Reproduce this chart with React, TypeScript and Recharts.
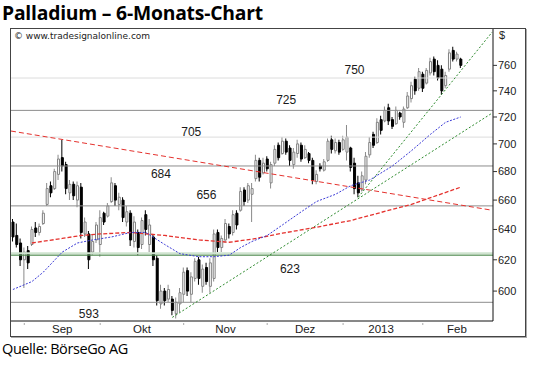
import { ComposedChart, Bar, Line, XAxis, YAxis, ReferenceLine, ReferenceDot, Cell } from "recharts"

// daily candles, Aug 2012 - Feb 2013 (USD)
const highs = [
  647, 644, 634, 628, 629, 642, 645, 644, 653, 672, 673, 682, 692, 703, 687, 674, 673, 673, 672, 648,
  639, 637, 645, 653, 652, 658, 676, 672, 665, 662, 656, 653, 649, 640, 648, 653, 647, 637, 623, 604,
  602, 604, 597, 596, 602, 615, 615, 612, 621, 622, 617, 618, 621, 640, 640, 636, 647, 644, 653, 653,
  669, 669, 672, 672, 692, 690, 690, 691, 687, 699, 701, 705, 704, 699, 697, 703, 701, 699, 694, 690,
  681, 686, 689, 704, 706, 704, 703, 706, 714, 698, 690, 677, 680, 694, 705, 709, 719, 721, 728, 730,
  720, 728, 724, 728, 739, 747, 751, 758, 755, 758, 766, 767, 764, 760, 755, 773, 775, 771, 766,
]
const lows = [
  632, 628, 616, 602, 614, 629, 635, 636, 643, 656, 662, 667, 674, 680, 664, 660, 660, 655, 634, 635,
  614, 623, 631, 622, 643, 648, 658, 656, 653, 645, 642, 629, 628, 623, 627, 636, 625, 616, 591, 589,
  591, 593, 585, 583, 587, 593, 597, 593, 606, 604, 599, 604, 599, 606, 625, 625, 631, 634, 636, 640,
  652, 656, 658, 645, 673, 673, 678, 680, 668, 684, 688, 692, 692, 684, 682, 690, 687, 689, 686, 671,
  671, 680, 680, 687, 693, 693, 692, 695, 688, 680, 664, 662, 666, 671, 690, 697, 700, 707, 716, 714,
  711, 714, 718, 712, 726, 731, 737, 740, 739, 745, 752, 752, 748, 737, 742, 755, 763, 763, 758,
]
const opens = [
  645, 636, 631, 620, 626, 630, 641, 638, 644, 657, 670, 668, 678, 690, 685, 665, 671, 660, 669, 637,
  637, 625, 633, 630, 651, 649, 659, 670, 657, 660, 645, 651, 632, 638, 630, 650, 630, 635, 621, 592,
  600, 595, 595, 586, 592, 598, 613, 598, 608, 620, 603, 615, 603, 608, 638, 628, 633, 642, 638, 651,
  653, 667, 660, 664, 675, 688, 679, 689, 672, 686, 699, 693, 702, 697, 685, 693, 699, 690, 693, 688,
  673, 684, 681, 688, 703, 695, 701, 696, 694, 697, 686, 672, 667, 674, 692, 707, 701, 718, 717, 727,
  718, 715, 723, 716, 727, 734, 749, 742, 753, 746, 754, 765, 760, 757, 744, 757, 772, 765, 765,
]
const closes = [
  635, 630, 620, 625, 618, 640, 638, 642, 651, 668, 665, 680, 689, 684, 668, 671, 663, 670, 638, 645,
  620, 632, 643, 648, 645, 656, 672, 660, 662, 648, 652, 633, 645, 628, 646, 640, 643, 620, 594, 600,
  594, 601, 588, 593, 599, 612, 600, 609, 619, 608, 614, 606, 618, 637, 628, 634, 644, 637, 650, 643,
  666, 659, 670, 668, 688, 676, 686, 682, 685, 696, 690, 702, 694, 688, 694, 700, 689, 696, 688, 674,
  678, 682, 687, 702, 696, 701, 694, 703, 705, 683, 668, 665, 677, 691, 701, 699, 716, 710, 725, 717,
  713, 725, 720, 726, 736, 744, 740, 755, 742, 756, 763, 755, 750, 740, 752, 770, 765, 769, 760,
]

// moving averages: [bar index, value]
const blueAvg = [
  [0, 601], [5, 606], [8, 612], [13, 625], [17, 631], [21, 633], [26, 635], [31, 638], [35, 638],
  [40, 630], [44, 624], [49, 622], [53, 622], [57, 623], [60, 628], [63, 632], [67, 636], [71, 643],
  [76, 652], [80, 659], [85, 664], [89, 670], [94, 674], [100, 684], [105, 695], [110, 707], [114, 716], [118, 720],
]
const redAvg = [
  [5, 631], [13, 634], [18, 636], [23, 637], [31, 638], [40, 636], [49, 633], [57, 631.5], [63, 633.5],
  [71, 637.5], [80, 641.5], [89, 646], [94, 649.5], [105, 657], [118, 669],
]

const levels = [750, 725, 705, 684, 656, 623, 593]
const levelColors = ["#dcdcdc", "#8c8c8c", "#dcdcdc", "#8c8c8c", "#8c8c8c", "#4f8a4f", "#8c8c8c"]
const levelSpots = [[90, 756.5], [72, 733], [47, 709], [39, 678.5], [51, 664], [73, 614], [20, 586]]

const monthLabels = ["Sep", "Okt", "Nov", "Dez", "2013", "Feb"]
const monthCenters = [13, 34, 56, 77, 97, 117]
const monthStarts = [3, 23, 45, 67, 87, 108]
const priceTicks = [600, 620, 640, 660, 680, 700, 720, 740, 760]

const slots = 127
const red = "#e5322e"
const green = "#2e8b2e"

const rows = Array.from({ length: slots }, (_, i) => {
  const has = i < highs.length
  const b = blueAvg.find((p) => p[0] === i)
  const r = redAvg.find((p) => p[0] === i)
  return {
    i,
    hl: has ? [lows[i], highs[i]] : undefined,
    body: has ? [Math.min(opens[i], closes[i]), Math.max(opens[i], closes[i])] : undefined,
    up: has ? closes[i] >= opens[i] : false,
    blue: b ? b[1] : null,
    red: r ? r[1] : null,
  }
})

const MonthTick = ({ x, y, payload }: any) => {
  const k = monthCenters.indexOf(payload.value)
  if (k >= 0)
    return (
      <text x={x} y={y + 4} textAnchor="middle" fontSize={11.5} fill="#1a1a1a" fontFamily="Liberation Sans, Arial, sans-serif">
        {monthLabels[k]}
      </text>
    )
  if (monthStarts.includes(payload.value)) return <line x1={x} x2={x} y1={y - 6} y2={y - 4} stroke="#aaa" />
  return <g />
}

export default function App() {
  return (
    <div style={{ position: "absolute", left: 0, top: 0, width: 540, height: 368, background: "#fff", overflow: "hidden" }}>
      <div style={{ position: "absolute", left: 2, top: -1, fontFamily: "Open Sans, sans-serif", fontWeight: 700, fontSize: 19.3, letterSpacing: -0.2, color: "#000", whiteSpace: "nowrap" }}>
        Palladium – 6-Monats-Chart
      </div>
      <div style={{ position: "absolute", left: 10, top: 28, width: 516, height: 309, boxSizing: "border-box", border: "1px solid #444", boxShadow: "1px 1px 0 #aaa" }} />
      <div style={{ position: "absolute", left: 11, top: 29 }}>
        <ComposedChart width={514} height={307} data={rows} margin={{ top: 0, right: 0, bottom: 0, left: 0 }}>
          <XAxis xAxisId="c" dataKey="i" type="category" height={15} interval={0} tickLine={false} axisLine={{ stroke: "#111" }} tick={<MonthTick />} />
          <XAxis xAxisId="b" dataKey="i" type="category" height={0} hide />
          <XAxis xAxisId="num" dataKey="i" type="number" domain={[-0.5, slots - 0.5]} allowDataOverflow height={0} hide />
          <YAxis
            orientation="right"
            scale="log"
            domain={[581.5, 789.5]}
            allowDataOverflow
            ticks={priceTicks}
            width={32}
            tickSize={4}
            tickMargin={1}
            axisLine={{ stroke: "#111" }}
            tickLine={{ stroke: "#333" }}
            tick={{ fontSize: 11, fill: "#222", fontFamily: "Liberation Sans, Arial, sans-serif" }}
          />

          {levels.map((v, k) => (
            <ReferenceLine key={v} xAxisId="c" y={v} stroke={levelColors[k]} strokeWidth={v === 623 ? 1.2 : 1} />
          ))}
          <ReferenceLine xAxisId="c" y={624.2} stroke="#cfe3cf" strokeWidth={2} />

          <ReferenceLine xAxisId="num" segment={[{ x: -0.5, y: 709.5 }, { x: 126.3, y: 653 }]} stroke={red} strokeDasharray="5 3" />
          <ReferenceLine xAxisId="num" segment={[{ x: 91, y: 662 }, { x: 126.3, y: 787 }]} stroke={green} strokeDasharray="2 2" />
          <ReferenceLine xAxisId="num" segment={[{ x: 42, y: 583.7 }, { x: 126.3, y: 723 }]} stroke={green} strokeDasharray="2 2" />

          <Line xAxisId="c" dataKey="red" stroke={red} strokeWidth={1.3} strokeDasharray="4 2" dot={false} connectNulls isAnimationActive={false} />
          <Line xAxisId="c" dataKey="blue" stroke="#3a3ad6" strokeWidth={1} strokeDasharray="2 1.5" dot={false} connectNulls isAnimationActive={false} />

          <Bar xAxisId="c" dataKey="hl" barSize={1} isAnimationActive={false}>
            {rows.map((r) => (
              <Cell key={r.i} fill={r.up ? "#8a8a8a" : "#000"} />
            ))}
          </Bar>
          <Bar xAxisId="b" dataKey="body" barSize={2} isAnimationActive={false}>
            {rows.map((r) => (
              <Cell key={r.i} fill={r.up ? "#fff" : "#000"} stroke={r.up ? "#808080" : "#000"} strokeWidth={1} />
            ))}
          </Bar>

          {levels.map((v, k) => (
            <ReferenceDot
              key={"l" + v}
              xAxisId="c"
              x={levelSpots[k][0]}
              y={levelSpots[k][1]}
              r={1}
              fill="none"
              stroke="none"
              label={{ value: String(v), position: "center", fontSize: 12, fill: "#1a1a1a", fontFamily: "Liberation Sans, Arial, sans-serif" }}
            />
          ))}
        </ComposedChart>
      </div>
      <div style={{ position: "absolute", left: 14, top: 31, fontFamily: "DejaVu Sans, Verdana, sans-serif", fontSize: 9, color: "#222", whiteSpace: "nowrap" }}>
        © www.tradesignalonline.com
      </div>
      <div style={{ position: "absolute", left: 499, top: 29, fontFamily: "Liberation Sans, Arial, sans-serif", fontSize: 11, color: "#222" }}>$</div>
      <div style={{ position: "absolute", left: 2, top: 339, fontFamily: "Open Sans, sans-serif", fontSize: 14.5, letterSpacing: -0.4, color: "#000", whiteSpace: "nowrap" }}>
        Quelle: BörseGo AG
      </div>
    </div>
  )
}
